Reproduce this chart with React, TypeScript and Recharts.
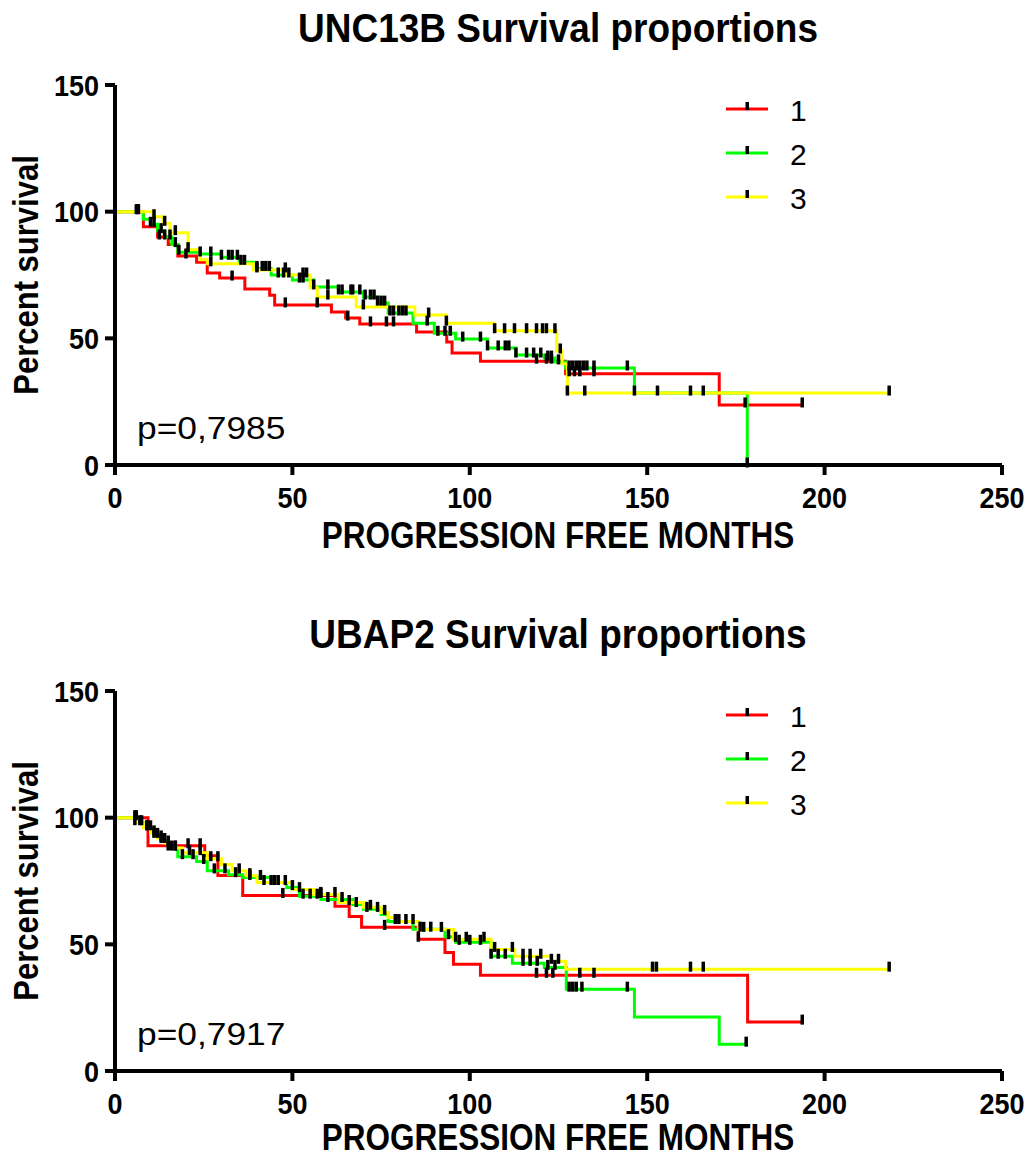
import React from 'react';
import { ComposedChart, Line, Scatter, XAxis, YAxis } from 'recharts';

const FONT = '"Liberation Sans", Arial, sans-serif';

const xTicks = [0, 50, 100, 150, 200, 250];
const yTicks = [0, 50, 100, 150];
const groupLabels = ['1', '2', '3'];
const groupColors = ['#ff0000', '#00ff00', '#ffff00'];

// UNC13B - group 1
const uncT1 = [0, 8, 12, 15, 17.7, 23, 26, 29.5, 36.6, 43.6, 45, 61, 65, 69, 85, 93.5, 95, 103, 127, 170.3];
const uncS1 = [100, 94, 90, 87, 82.5, 80, 75.8, 73.8, 69.5, 67, 63.2, 60.4, 58, 55.7, 52.5, 48.6, 44.2, 41, 36, 23.7];
const uncEnd1 = 193.7;
const uncC1 = [6, 12.5, 20, 33, 48, 57, 65.6, 72, 76.5, 78.5, 118.8, 121.6, 123, 128, 129.5, 131, 135, 177.6, 193.7];

// UNC13B - group 2
const uncT2 = [0, 8, 10, 12, 14, 16, 17.7, 24, 30, 35, 39, 44, 50, 56, 63, 70, 74, 77, 84, 90, 96, 105, 113, 121, 124, 127, 146.4, 178.2];
const uncS2 = [100, 97, 95, 92.5, 90, 87, 84, 83.3, 82, 80, 77.6, 75, 73, 70.3, 68.3, 66.3, 63.9, 60, 56, 52, 49.7, 46.2, 43.4, 42.2, 40.7, 38.3, 28.4, 0];
const uncEnd2 = 178.2;
const uncC2 = [6.6, 10, 11, 13, 14, 15.5, 17, 18, 24, 27, 30, 32, 33, 34.5, 35.5, 36.5, 40, 41.5, 42.5, 43.5, 46, 47.5, 49, 52, 53, 56, 60, 63, 64, 66.5, 67, 69, 70.5, 72, 73, 74, 75, 76, 77.5, 78.5, 80, 81, 82, 88, 91, 93, 94.5, 98, 103, 105, 108, 110, 111, 113, 116, 118, 120, 122, 123, 125, 128, 129, 130, 131, 132, 133, 135, 144.4, 178.2];

// UNC13B - group 3
const uncT3 = [0, 10.7, 13.5, 15.5, 20.6, 24, 26, 39, 48.4, 55, 57, 68, 84.5, 93.4, 107, 124.5, 126, 127.5];
const uncS3 = [100, 98, 95.4, 91.7, 85, 81, 79.4, 77, 75, 70, 66.3, 62.4, 59.2, 56, 53, 45, 40, 28.4];
const uncEnd3 = 218.2;
const uncC3 = [6.4, 11, 14, 17, 20.6, 27, 40, 48, 53, 54, 60, 70, 88.4, 93.4, 107, 109.8, 112.6, 116, 118.8, 120.5, 121.6, 124, 125.5, 127.5, 132.4, 146.4, 152.9, 162.2, 165.8, 218.2];

// UBAP2 - group 1
const ubT1 = [0, 9.3, 25.3, 29, 36, 62, 66, 69.5, 85.5, 93, 95.4, 103, 178.3];
const ubS1 = [100, 88.9, 85, 77.2, 69.3, 65, 61, 56.7, 52, 46.8, 42.1, 37.8, 19.3];
const ubEnd1 = 193.7;
const ubC1 = [5.6, 20.6, 24, 47.3, 58, 76, 85.5, 118.8, 121.6, 123.4, 131, 135, 193.7];

// UBAP2 - group 2
const ubT2 = [0, 7, 9, 11, 13, 15, 17.7, 23, 26, 32, 36, 44, 48.4, 52, 58, 67, 70, 75, 77, 84, 93, 96, 106, 112, 121, 127.2, 146.4, 170.3];
const ubS2 = [100, 98, 96, 93, 91, 88, 84.6, 82.7, 79, 77.5, 76.4, 74.4, 72.4, 69, 67.7, 65.7, 63.8, 61.8, 59, 56, 53, 50.8, 45.3, 42.5, 40.9, 32.3, 21.3, 10.6];
const ubEnd2 = 177.9;
const ubC2 = [6, 7.5, 9, 10, 11, 12, 13, 14, 15, 16, 17, 19, 22, 25, 28, 31, 34, 38, 41, 44, 46, 50, 53, 55, 57, 60, 64, 68, 71, 74, 79, 82, 86, 89, 94, 97, 100, 103, 106, 108, 110, 115, 117, 119, 122, 124, 128, 129, 130, 131.6, 144.4, 177.9];

// UBAP2 - group 3
const ubT3 = [0, 5.6, 8, 10, 12, 14, 16, 19, 26, 30, 33, 37, 40, 50, 56, 63, 70, 75, 77, 79, 85.5, 95.4, 106, 112.7, 123, 127];
const ubS3 = [100, 98, 96, 94, 92, 90, 88, 86.2, 83.8, 81.5, 79, 77.1, 74.4, 71.6, 69.7, 66.5, 64.6, 62.6, 60.6, 59, 55.9, 52, 48, 45.3, 43.3, 40.2];
const ubEnd3 = 218.2;
const ubC3 = [5.6, 7, 9, 11, 13, 15, 17, 21, 24, 27, 29, 35, 38, 42, 45, 48, 52, 58, 62, 66, 72, 76, 80, 84, 87, 92, 96, 99, 104, 107, 112, 115, 117, 120, 123, 125, 151.5, 152.6, 162.2, 165.8, 218.2];

type Curve = { times: number[]; surv: number[]; end: number; censor: number[] };

const steps = (c: Curve) => {
  const pts = c.times.map((t, i) => ({ t, s: c.surv[i] }));
  pts.push({ t: c.end, s: c.surv[c.surv.length - 1] });
  return pts;
};

// survival level at a censored time, looked up from the step data
const survAt = (c: Curve, t: number) => {
  let s = c.surv[0];
  c.times.forEach((tt, i) => {
    if (tt <= t) s = c.surv[i];
  });
  return s;
};

const censorPts = (c: Curve) => c.censor.map((t) => ({ t, s: survAt(c, t) }));

const CensorMark = (props: any) => {
  if (props.cx == null || props.cy == null) return null;
  return <rect x={props.cx - 1.75} y={props.cy - 7.5} width={3.5} height={10} fill="#000" />;
};

const XTick = (props: any) => {
  const { x, y, payload } = props;
  return (
    <g transform={`translate(${x},${y + 31}) scale(1,1.1)`}>
      <text textAnchor="middle" fontFamily={FONT} fontWeight="bold" fontSize={27} fill="#000">
        {payload.value}
      </text>
    </g>
  );
};

const YTick = (props: any) => {
  const { x, y, payload } = props;
  return (
    <g transform={`translate(${x - 4},${y + 10.5}) scale(1,1.1)`}>
      <text textAnchor="end" fontFamily={FONT} fontWeight="bold" fontSize={27} fill="#000">
        {payload.value}
      </text>
    </g>
  );
};

const W = 1031;
const H = 553;

const KMPanel = ({ top, title, pText, curves, xLabelY }: { top: number; title: string; pText: string; curves: Curve[]; xLabelY: number }) => (
  <div style={{ position: 'absolute', left: 0, top, width: W, height: H }}>
    <ComposedChart width={W} height={H} margin={{ top: 85, right: 29, bottom: 48, left: 55 }}>
      <XAxis
        type="number"
        dataKey="t"
        domain={[0, 250]}
        ticks={xTicks}
        height={40}
        tickSize={10}
        tickMargin={2}
        axisLine={{ stroke: '#000', strokeWidth: 4 }}
        tickLine={{ stroke: '#000', strokeWidth: 4 }}
        tick={XTick}
      />
      <YAxis
        type="number"
        dataKey="s"
        domain={[0, 150]}
        ticks={yTicks}
        width={60}
        tickSize={10}
        tickMargin={2}
        axisLine={{ stroke: '#000', strokeWidth: 4 }}
        tickLine={{ stroke: '#000', strokeWidth: 4 }}
        tick={YTick}
      />
      {curves.map((c, i) => (
        <Line
          key={'l' + i}
          data={steps(c)}
          dataKey="s"
          type="stepAfter"
          stroke={groupColors[i]}
          strokeWidth={3}
          dot={false}
          activeDot={false}
          isAnimationActive={false}
        />
      ))}
      {curves.map((c, i) => (
        <Scatter
          key={'c' + i}
          data={censorPts(c)}
          dataKey="s"
          fill="#000"
          shape={CensorMark}
          isAnimationActive={false}
        />
      ))}
    </ComposedChart>
    <svg width={W} height={H} style={{ position: 'absolute', left: 0, top: 0, pointerEvents: 'none', overflow: 'visible' }}>
      <g transform="translate(558,42) scale(1,1.1)">
        <text textAnchor="middle" fontFamily={FONT} fontWeight="bold" fontSize={37} fill="#000">{title}</text>
      </g>
      <g transform={`translate(558,${xLabelY}) scale(1,1.2)`}>
        <text textAnchor="middle" fontFamily={FONT} fontWeight="bold" fontSize={31.5} fill="#000">PROGRESSION FREE MONTHS</text>
      </g>
      <g transform="translate(38,275) rotate(-90) scale(1,1.12)">
        <text textAnchor="middle" fontFamily={FONT} fontWeight="bold" fontSize={31} fill="#000">Percent survival</text>
      </g>
      <g transform="translate(137,439) scale(1.14,1)">
        <text fontFamily={FONT} fontSize={31} fill="#000">{pText}</text>
      </g>
      {groupLabels.map((g, i) => (
        <g key={g} transform={`translate(0,${109 + i * 44})`}>
          <line x1={726} x2={768} y1={0} y2={0} stroke={groupColors[i]} strokeWidth={3} />
          <rect x={745.5} y={-7} width={3.5} height={8} fill="#000" />
          <text x={790} y={12} fontFamily={FONT} fontSize={30} fill="#000">{g}</text>
        </g>
      ))}
    </svg>
  </div>
);

export default function App() {
  return (
    <div style={{ position: 'absolute', left: 0, top: 0, width: W, height: 1159, overflow: 'hidden', background: '#fff' }}>
      <KMPanel
        top={0}
        title="UNC13B Survival proportions"
        pText="p=0,7985"
        xLabelY={548}
        curves={[
          { times: uncT1, surv: uncS1, end: uncEnd1, censor: uncC1 },
          { times: uncT2, surv: uncS2, end: uncEnd2, censor: uncC2 },
          { times: uncT3, surv: uncS3, end: uncEnd3, censor: uncC3 },
        ]}
      />
      <KMPanel
        top={606}
        title="UBAP2 Survival proportions"
        pText="p=0,7917"
        xLabelY={544}
        curves={[
          { times: ubT1, surv: ubS1, end: ubEnd1, censor: ubC1 },
          { times: ubT2, surv: ubS2, end: ubEnd2, censor: ubC2 },
          { times: ubT3, surv: ubS3, end: ubEnd3, censor: ubC3 },
        ]}
      />
    </div>
  );
}
